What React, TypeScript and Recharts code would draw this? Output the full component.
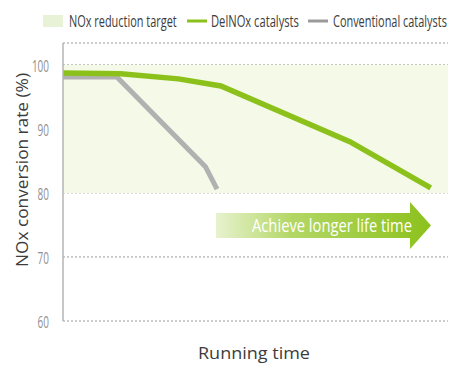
import { useLayoutEffect, useRef, useState } from "react";
import { LineChart, Line, XAxis, YAxis, CartesianGrid, ReferenceArea } from "recharts";

// running time (relative, 0..100) vs NOx conversion rate (%)
const delnoxTime = [0, 15, 30, 41, 74.5, 95.5];
const delnoxRate = [98.7, 98.6, 97.8, 96.7, 88.0, 80.8];
const convTime = [0, 14, 37, 40];
const convRate = [98.1, 98.1, 84.1, 80.6];
const yTicks = [60, 70, 80, 90, 100];
const targetBand = [80, 100];

const GREEN = "#8cc11c";
const GREY = "#b1b1b1";
const FONT = "'Open Sans', sans-serif";

const delnox = delnoxTime.map((t, i) => ({ t, v: delnoxRate[i] }));
const conv = convTime.map((t, i) => ({ t, v: convRate[i] }));

// no condensed font installed: squeeze the text horizontally to a given width
function CondText({ x, y, width, rotate = 0, anchor = "start", children, ...rest }: any) {
  const ref = useRef<SVGTextElement>(null);
  const [k, setK] = useState(1);
  useLayoutEffect(() => {
    const w = ref.current ? ref.current.getBBox().width : 0;
    if (w) setK(width / w);
  }, [width, children]);
  const rot = rotate ? ` rotate(${rotate})` : "";
  return (
    <text ref={ref} transform={`translate(${x},${y})${rot} scale(${k},1)`} textAnchor={anchor} fontFamily={FONT} {...rest}>
      {children}
    </text>
  );
}

const YTick = (props: any) => {
  const { x, y, payload } = props;
  const s = String(payload.value);
  return (
    <CondText x={x} y={y + 7} width={s.length * 5.7} anchor="end" fill="#8f8f8f" fontSize={16}>
      {s}
    </CondText>
  );
};

export default function App() {
  return (
    <div style={{ position: "absolute", left: 0, top: 0, width: 462, height: 376, background: "#fff", fontFamily: FONT }}>
      <LineChart width={462} height={376} margin={{ top: 43, right: 14, bottom: 55, left: 8 }}>
        <ReferenceArea x1={0} x2={100} y1={targetBand[0]} y2={targetBand[1]} fill="#f4f9e8" fillOpacity={1} stroke="none" />
        <CartesianGrid vertical={false} stroke="#9a9a9a" strokeDasharray="2 2" />
        <XAxis dataKey="t" type="number" domain={[0, 100]} tick={false} tickLine={false} height={0} axisLine={{ stroke: "#b5b5b5", strokeWidth: 1.5 }} allowDuplicatedCategory={false} />
        <YAxis
          type="number"
          domain={[60, 103.4]}
          ticks={yTicks}
          width={55}
          tickSize={0}
          tickMargin={14}
          tickLine={false}
          axisLine={{ stroke: "#b5b5b5", strokeWidth: 1.5 }}
          tick={<YTick />}
        />
        <Line data={conv} dataKey="v" stroke={GREY} strokeWidth={5} dot={false} isAnimationActive={false} strokeLinejoin="miter" />
        <Line data={delnox} dataKey="v" stroke={GREEN} strokeWidth={5.5} dot={false} isAnimationActive={false} strokeLinejoin="miter" />
      </LineChart>

      <svg width={462} height={376} style={{ position: "absolute", left: 0, top: 0, pointerEvents: "none" }}>
        <defs>
          <linearGradient id="arrowGrad" x1="0" x2="1" y1="0" y2="0">
            <stop offset="0" stopColor="#e8f2cf" />
            <stop offset="0.35" stopColor="#b3d766" />
            <stop offset="1" stopColor="#8cc11c" />
          </linearGradient>
        </defs>
        <polygon points="216,213 410,213 410,202 431,225.5 410,249 410,238 216,238" fill="url(#arrowGrad)" />
        <CondText x={252} y={232} width={160} fill="#fff" fontSize={19}>
          Achieve longer life time
        </CondText>
        <CondText x={28} y={170} rotate={-90} width={194} anchor="middle" fill="#3c3c3c" fontSize={17}>
          NOx conversion rate (%)
        </CondText>
        <CondText x={198} y={359} width={112} fill="#3c3c3c" fontSize={17}>
          Running time
        </CondText>
        {/* legend */}
        <rect x={43} y={15} width={20} height={12} fill="#e8f2d7" />
        <CondText x={69} y={27} width={108} fill="#3c3c3c" fontSize={16}>NOx reduction target</CondText>
        <line x1={187} x2={207} y1={21} y2={21} stroke={GREEN} strokeWidth={3} />
        <CondText x={211} y={27} width={88} fill="#3c3c3c" fontSize={16}>DelNOx catalysts</CondText>
        <line x1={308} x2={328} y1={21} y2={21} stroke="#9a9a9a" strokeWidth={3} />
        <CondText x={333} y={27} width={114} fill="#3c3c3c" fontSize={16}>Conventional catalysts</CondText>
      </svg>
    </div>
  );
}
